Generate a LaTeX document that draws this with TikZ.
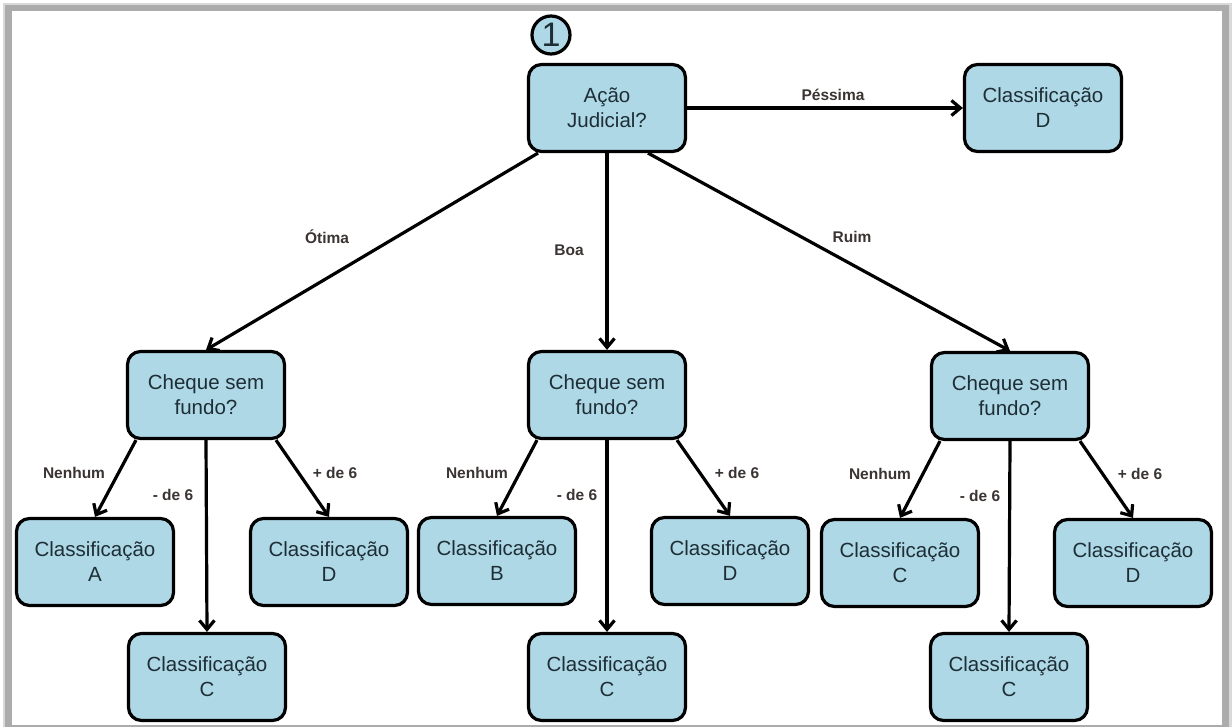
\documentclass[tikz,border=0pt]{standalone}
\usepackage{fontspec}
\setmainfont{Liberation Sans}
\usetikzlibrary{arrows.meta,calc}
\definecolor{boxfill}{HTML}{AED8E6}
\definecolor{boxtext}{HTML}{1E2E36}
\definecolor{labeltext}{HTML}{3A3432}
\begin{document}
\begin{tikzpicture}[x=1pt,y=-1pt,
  box/.style={draw=black, line width=3.2pt, fill=boxfill, rounded corners=13pt,
    minimum width=157pt, minimum height=87pt, align=center, inner sep=0pt,
    font=\fontsize{20.5}{25}\selectfont, text=boxtext},
  numcirc/.style={draw=black, line width=3.2pt, fill=boxfill, circle,
    minimum size=38pt, inner sep=0pt, font=\fontsize{34}{34}\selectfont, text=boxtext},
  arr/.style={line width=3.2pt, -{Straight Barb[length=9pt,width=15pt]}},
  lbl/.style={font=\bfseries\fontsize{15.5}{18}\selectfont, text=labeltext, inner sep=0pt}]

% page and framed panel
\useasboundingbox (0,0) rectangle (1232,727);
\fill[white] (0,0) rectangle (1232,727);
\fill[gray!30] (3,3) rectangle (1232,727);
\fill[gray!65] (5,5) rectangle (1229,727);
\fill[white] (12,11) rectangle (1222,725);

% root question
\node[numcirc] (num) at (551,35) {1};
\node[box] (root) at (607,108) {Ação\\Judicial?};
\node[box] (dtop) at (1043,108) {Classificação\\D};

% second level questions
\node[box] (c1) at (206,395) {Cheque sem\\fundo?};
\node[box] (c2) at (607,395) {Cheque sem\\fundo?};
\node[box] (c3) at (1010,396) {Cheque sem\\fundo?};

% leaves, left group
\node[box] (a1) at (95,562) {Classificação\\A};
\node[box] (d1) at (329,562) {Classificação\\D};
\node[box] (m1) at (207,677) {Classificação\\C};

% leaves, middle group
\node[box] (b2) at (497,561) {Classificação\\B};
\node[box] (d2) at (730,561) {Classificação\\D};
\node[box] (m2) at (607,677) {Classificação\\C};

% leaves, right group
\node[box] (a3) at (900,563) {Classificação\\C};
\node[box] (d3) at (1133,563) {Classificação\\D};
\node[box] (m3) at (1009,677) {Classificação\\C};

% connectors from the root
\draw[arr] (root.east) -- (dtop.west);
\draw[arr] ([xshift=-69pt]root.south) -- (c1.north);
\draw[arr] (root.south) -- (c2.north);
\draw[arr] ([xshift=41pt]root.south) -- (c3.north);

% connectors of each question
\foreach \q/\l/\m/\r in {c1/a1/m1/d1, c2/b2/m2/d2, c3/a3/m3/d3}{
  \draw[arr] ([xshift=-70pt]\q.south) -- (\l.north);
  \draw[arr] (\q.south) -- (\m.north);
  \draw[arr] ([xshift=70pt]\q.south) -- (\r.north);
}

% connector labels
\node[lbl] (lpes) at (833,95) {Péssima};
\node[lbl] (lot) at (327,237) {Ótima};
\node[lbl] (lboa) at (569,250) {Boa};
\node[lbl] (lru) at (852,237) {Ruim};

\node[lbl] (n1) at (74,473) {Nenhum};
\node[lbl] (s1) at (173,495) {- de 6};
\node[lbl] (p1) at (335,473) {+ de 6};
\node[lbl] (n2) at (477,473) {Nenhum};
\node[lbl] (s2) at (577,495) {- de 6};
\node[lbl] (p2) at (737,473) {+ de 6};
\node[lbl] (n3) at (880,474) {Nenhum};
\node[lbl] (s3) at (980,496) {- de 6};
\node[lbl] (p3) at (1140,474) {+ de 6};
\end{tikzpicture}
\end{document}
